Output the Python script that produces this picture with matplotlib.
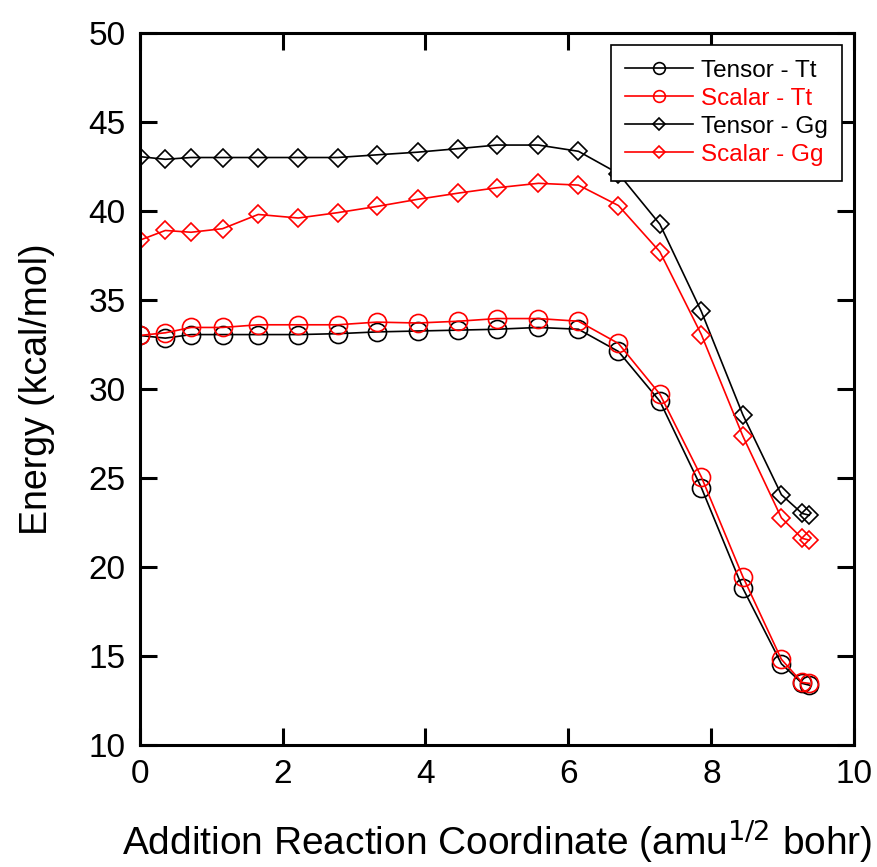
import matplotlib
matplotlib.use('Agg')
import matplotlib.pyplot as plt

# reaction coordinate (amu^1/2 bohr)
coord = [0, 0.36, 0.72, 1.16, 1.66, 2.22, 2.77, 3.32, 3.89, 4.46, 5.0,
         5.58, 6.14, 6.7, 7.28, 7.86, 8.44, 8.98, 9.27, 9.37]

# energies (kcal/mol)
tensor_tt = [33.0, 32.85, 33.05, 33.05, 33.05, 33.05, 33.1, 33.2, 33.25, 33.3, 33.35,
             33.45, 33.35, 32.1, 29.3, 24.45, 18.8, 14.55, 13.45, 13.35]
scalar_tt = [33.0, 33.15, 33.45, 33.45, 33.6, 33.6, 33.6, 33.75, 33.7, 33.8, 33.95,
             33.95, 33.8, 32.55, 29.7, 25.05, 19.45, 14.8, 13.5, 13.45]
tensor_gg = [43.05, 42.9, 43.0, 43.0, 43.0, 43.0, 43.0, 43.15, 43.3, 43.5, 43.7,
             43.7, 43.35, 42.1, 39.25, 34.35, 28.55, 24.05, 23.0, 22.9]
scalar_gg = [38.35, 38.9, 38.8, 39.0, 39.8, 39.6, 39.9, 40.25, 40.65, 41.0, 41.3,
             41.55, 41.45, 40.3, 37.7, 33.05, 27.35, 22.75, 21.6, 21.5]

plt.rcParams['font.family'] = ['Liberation Sans', 'DejaVu Sans']

fig = plt.figure(figsize=(8.78, 8.67), dpi=100)
ax = fig.add_axes([0.159, 0.141, 0.814, 0.821])

series = [
    (tensor_tt, 'black', 'o', 13, 'Tensor - Tt'),
    (scalar_tt, 'red', 'o', 13, 'Scalar - Tt'),
    (tensor_gg, 'black', 'D', 9.5, 'Tensor - Gg'),
    (scalar_gg, 'red', 'D', 9.5, 'Scalar - Gg'),
]
for vals, col, mk, ms, lab in series:
    ax.plot(coord, vals, color=col, lw=1.2, marker=mk, ms=ms, mfc='none',
            mec=col, mew=1.2, label=lab)

ax.set_xlim(0, 10)
ax.set_ylim(10, 50)
ax.set_xticks([0, 2, 4, 6, 8, 10])
ax.set_yticks(range(10, 51, 5))
ax.tick_params(direction='in', length=12, width=2.2, labelsize=24,
               top=True, right=True, pad=10)
for sp in ax.spines.values():
    sp.set_linewidth(2.2)

ax.set_ylabel('Energy (kcal/mol)', fontsize=27, labelpad=24)
ax.set_xlabel('Addition Reaction Coordinate (amu$^{1/2}$ bohr)', fontsize=28, labelpad=20)

leg = ax.legend(loc='upper right', fontsize=17.5, frameon=True, fancybox=False,
                framealpha=1, edgecolor='black', handlelength=2.8, markerscale=0.65,
                handletextpad=0.3, borderaxespad=0.5, labelspacing=0.25,
                borderpad=0.6)
leg.get_frame().set_linewidth(1.2)
for txt, (vals, col, mk, ms, lab) in zip(leg.get_texts(), series):
    txt.set_color(col)

fig.savefig('out.png', dpi=100)
